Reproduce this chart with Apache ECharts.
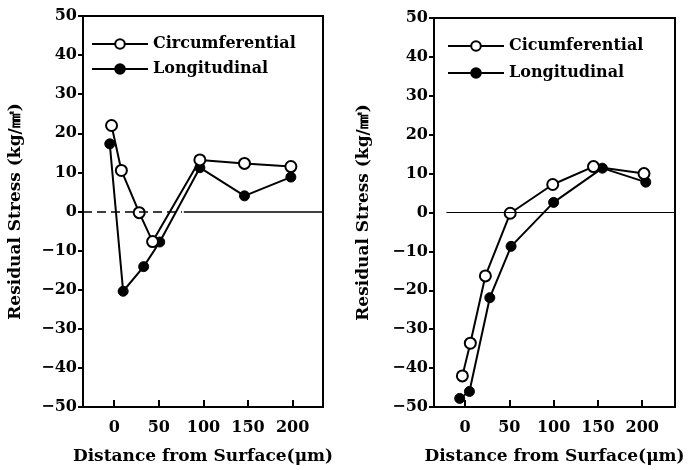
<!DOCTYPE html>
<html><head><meta charset="utf-8">
<script src="https://cdn.jsdelivr.net/npm/echarts@6/dist/echarts.min.js"></script>
<style>html,body{margin:0;padding:0;background:#fff}#c{width:694px;height:470px}</style>
</head><body><div id="c"></div>
<script>
// Left panel
const leftCircX = [-3, 8, 28, 43, 96, 146, 198];
const leftCircY = [22, 10.5, -0.3, -7.7, 13.2, 12.3, 11.5];
const leftLongX = [-5, 10, 33, 51, 96, 146, 198];
const leftLongY = [17.3, -20.4, -14.1, -7.8, 11.2, 4, 8.8];
// Right panel
const rightCircX = [-3, 6, 23, 51, 99, 145, 202];
const rightCircY = [-42, -33.6, -16.3, -0.2, 7.2, 11.8, 10];
const rightLongX = [-6, 5, 28, 52, 100, 155, 204];
const rightLongY = [-47.8, -46, -21.9, -8.7, 2.6, 11.4, 7.8];

const xTicks = [0, 50, 100, 150, 200];
const leftNames = ['Circumferential', 'Longitudinal'];
const rightNames = ['Cicumferential', 'Longitudinal'];
const xTitle = 'Distance from Surface(μm)';
const yTitle = 'Residual Stress (kg/㎟)';

const FONT = 'DejaVu Serif';
const zip = (xs, ys) => xs.map((x, i) => [x, ys[i]]);

function xAxis(gi, min, max) {
  return {
    type: 'value', gridIndex: gi, min: min, max: max,
    axisLine: {show: true, onZero: false, lineStyle: {color: '#000', width: 2}},
    axisTick: {show: true, inside: true, length: 7, lineStyle: {color: '#000', width: 2},
      customValues: xTicks},
    axisLabel: {color: '#000', fontFamily: FONT, fontWeight: 'bold', fontSize: 16, margin: 13,
      customValues: xTicks},
    splitLine: {show: false},
    name: xTitle, nameLocation: 'middle', nameGap: 41,
    nameTextStyle: {color: '#000', fontFamily: FONT, fontWeight: 'bold', fontSize: 17}
  };
}
function yAxis(gi, gap) {
  return {
    type: 'value', gridIndex: gi, min: -50, max: 50, interval: 10,
    axisLine: {show: true, onZero: false, lineStyle: {color: '#000', width: 2}},
    axisTick: {show: true, inside: false, length: 5, lineStyle: {color: '#000', width: 2}},
    axisLabel: {color: '#000', fontFamily: FONT, fontWeight: 'bold', fontSize: 16, margin: 6,
      formatter: v => v < 0 ? '\u2212' + Math.abs(v) : String(v)},
    splitLine: {show: false},
    name: yTitle, nameLocation: 'middle', nameGap: gap,
    nameTextStyle: {color: '#000', fontFamily: FONT, fontWeight: 'bold', fontSize: 17}
  };
}
function lineSeries(name, data, gi, open, extra) {
  return Object.assign({
    type: 'line', name: name, xAxisIndex: gi, yAxisIndex: gi, data: data,
    symbol: 'circle', symbolSize: open ? 11 : 10, showAllSymbol: true,
    lineStyle: {color: '#000', width: 2},
    itemStyle: open ? {color: '#fff', borderColor: '#000', borderWidth: 2} : {color: '#000', borderColor: '#000', borderWidth: 1},
    z: open ? 4 : 3, animation: false
  }, extra || {});
}

const chart = echarts.init(document.getElementById('c'), null, {renderer: 'canvas'});
chart.setOption({
  animation: false,
  backgroundColor: '#fff',
  grid: [
    {left: 83, top: 16, width: 240, height: 398, show: true, borderColor: '#000', borderWidth: 2, backgroundColor: 'transparent'},
    {left: 434, top: 18, width: 241, height: 398, show: true, borderColor: '#000', borderWidth: 2, backgroundColor: 'transparent'}
  ],
  xAxis: [xAxis(0, -35, 234), xAxis(1, -35, 237)],
  yAxis: [yAxis(0, 59), yAxis(1, 62)],
  legend: [
    {data: leftNames, orient: 'vertical', left: 91, top: 36, padding: 0, itemWidth: 56, itemHeight: 12, itemGap: 9,
      textStyle: {color: '#000', fontFamily: FONT, fontWeight: 'bold', fontSize: 16}, selectedMode: false},
    {data: rightNames, orient: 'vertical', left: 447, top: 38, padding: 0, itemWidth: 56, itemHeight: 12, itemGap: 11,
      textStyle: {color: '#000', fontFamily: FONT, fontWeight: 'bold', fontSize: 16}, selectedMode: false}
  ],
  series: [
    lineSeries(leftNames[0], zip(leftCircX, leftCircY), 0, true, {
      markLine: {silent: true, symbol: 'none', label: {show: false}, animation: false,
        data: [
          [{coord: [-35, 0], lineStyle: {type: [9, 5], color: '#000', width: 1.5}}, {coord: [76, 0]}],
          [{coord: [78, 0], lineStyle: {type: 'solid', color: '#000', width: 1.5}}, {coord: [234, 0]}]
        ]}
    }),
    lineSeries(leftNames[1], zip(leftLongX, leftLongY), 0, false),
    lineSeries(rightNames[0], zip(rightCircX, rightCircY), 1, true, {
      markLine: {silent: true, symbol: 'none', label: {show: false}, animation: false,
        data: [
          [{coord: [-21, 0], lineStyle: {type: 'solid', color: '#000', width: 1}}, {coord: [237, 0]}]
        ]}
    }),
    lineSeries(rightNames[1], zip(rightLongX, rightLongY), 1, false)
  ]
});
</script></body></html>
